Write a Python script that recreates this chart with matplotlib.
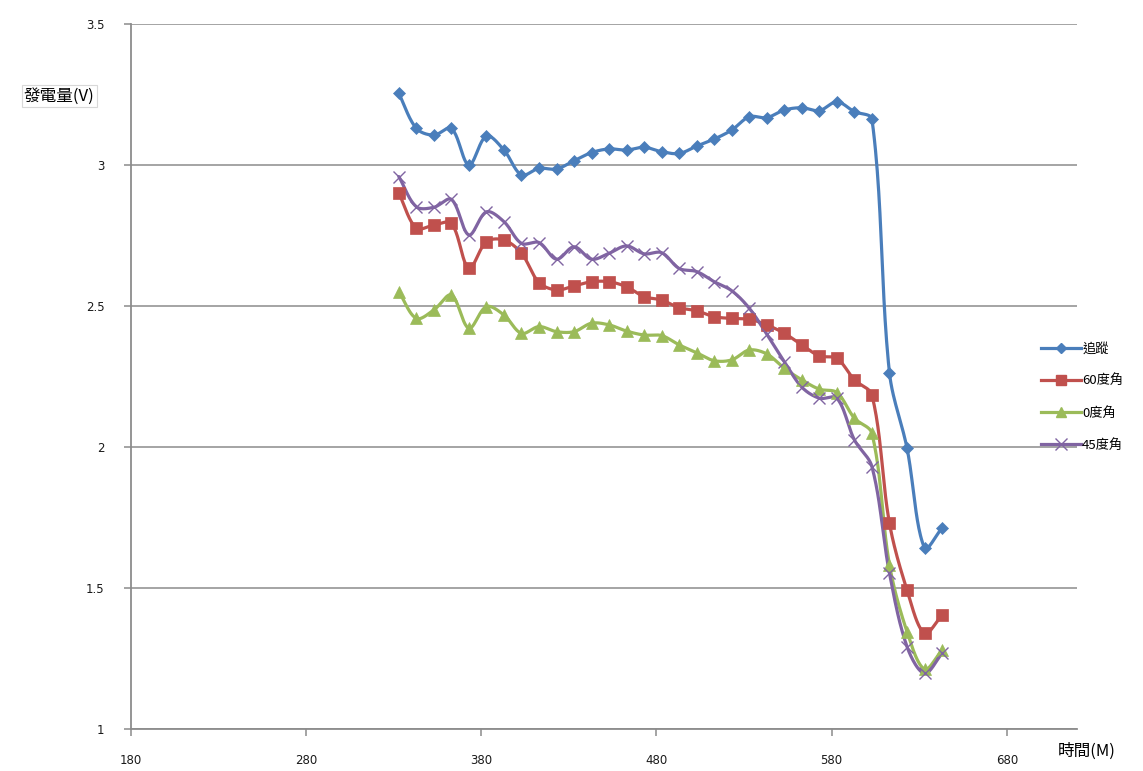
import numpy as np
import matplotlib
matplotlib.use("Agg")
import matplotlib.pyplot as plt
from matplotlib.lines import Line2D

plt.rcParams['font.family'] = ['Noto Sans CJK TC', 'DejaVu Sans']

# ---------------- data ----------------
time_m = [333, 343, 353, 363, 373, 383, 393, 403, 413, 423, 433, 443, 453, 463, 473, 483,
          493, 503, 513, 523, 533, 543, 553, 563, 573, 583, 593, 603, 613, 623, 633, 643]

tracking = [3.254, 3.130, 3.106, 3.130, 3.000, 3.103, 3.053, 2.965, 2.988, 2.986, 3.015, 3.044,
            3.057, 3.053, 3.063, 3.047, 3.041, 3.067, 3.092, 3.124, 3.171, 3.168, 3.195, 3.203,
            3.193, 3.224, 3.189, 3.162, 2.262, 1.996, 1.642, 1.713]

deg60 = [2.900, 2.776, 2.787, 2.793, 2.634, 2.728, 2.734, 2.687, 2.583, 2.557, 2.571, 2.586,
         2.586, 2.568, 2.533, 2.521, 2.494, 2.483, 2.462, 2.456, 2.453, 2.433, 2.403, 2.362,
         2.323, 2.314, 2.238, 2.184, 1.729, 1.493, 1.339, 1.404]

deg0 = [2.551, 2.456, 2.486, 2.539, 2.421, 2.498, 2.468, 2.403, 2.427, 2.409, 2.409, 2.439,
        2.433, 2.411, 2.397, 2.395, 2.362, 2.334, 2.306, 2.309, 2.344, 2.330, 2.279, 2.238,
        2.205, 2.193, 2.102, 2.048, 1.582, 1.345, 1.212, 1.280]

deg45 = [2.959, 2.852, 2.850, 2.878, 2.752, 2.834, 2.799, 2.722, 2.725, 2.666, 2.710, 2.666,
         2.687, 2.713, 2.685, 2.689, 2.633, 2.622, 2.586, 2.554, 2.492, 2.400, 2.303, 2.212,
         2.173, 2.173, 2.025, 1.930, 1.552, 1.292, 1.197, 1.268]

series_names = ['追蹤', '60度角', '0度角', '45度角']
x_ticks = [180, 280, 380, 480, 580, 680]
y_ticks = [1, 1.5, 2, 2.5, 3, 3.5]

# ---------------- style ----------------
colors = ['#4A7EBB', '#C0504D', '#9BBB59', '#8064A2']
markers = ['D', 's', '^', 'x']
msizes = [6, 8.5, 8, 8]

# approximate screen scale (px per data unit) used only for curve smoothing shape
SX, SY = 1.75, 282.0


def smooth(xs, ys, n=24):
    """Smoothed line through points: Bezier segments with chord-length weighted tangents."""
    x = np.asarray(xs, float) * SX
    y = np.asarray(ys, float) * SY
    P = np.column_stack([x, y])
    P = np.vstack([P[0], P, P[-1]])
    t = np.linspace(0, 1, n, endpoint=False)[:, None]
    out = []
    for i in range(1, len(P) - 2):
        p0, p1, p2, p3 = P[i - 1], P[i], P[i + 1], P[i + 2]
        d01 = np.linalg.norm(p1 - p0)
        d12 = np.linalg.norm(p2 - p1)
        d23 = np.linalg.norm(p3 - p2)
        w1 = d12 / (d01 + d12) if (d01 + d12) > 0 else 0.5
        w2 = d12 / (d12 + d23) if (d12 + d23) > 0 else 0.5
        c1 = p1 + (p2 - p0) * w1 / 3.0
        c2 = p2 - (p3 - p1) * w2 / 3.0
        b = ((1 - t) ** 3) * p1 + 3 * ((1 - t) ** 2) * t * c1 + 3 * (1 - t) * t ** 2 * c2 + t ** 3 * p2
        out.append(b)
    out.append(P[-2][None, :])
    out = np.vstack(out)
    return out[:, 0] / SX, out[:, 1] / SY


W, H = 1143, 771
fig = plt.figure(figsize=(W / 100, H / 100), dpi=100)
ax = fig.add_axes([130.7 / W, (H - 729) / H, (1077 - 130.7) / W, (729 - 24) / H])

all_series = [tracking, deg60, deg0, deg45]
handles = []
for ys, c, m, ms, name in zip(all_series, colors, markers, msizes, series_names):
    sx, sy = smooth(time_m, ys)
    ax.plot(sx, sy, color=c, lw=2.3, zorder=3, solid_capstyle='round')
    if m == 'x':
        ax.plot(time_m, ys, ls='none', marker=m, ms=ms, mec=c, mew=1.0, zorder=4)
        h = Line2D([], [], color=c, lw=2.3, marker=m, ms=ms, mec=c, mew=1.0)
    else:
        ax.plot(time_m, ys, ls='none', marker=m, ms=ms, mfc=c, mec=c, mew=0.5, zorder=4)
        h = Line2D([], [], color=c, lw=2.3, marker=m, ms=ms * 0.9, mfc=c, mec=c)
    handles.append(h)

ax.set_xlim(180, 720)
ax.set_ylim(1, 3.5)
ax.set_xticks(x_ticks)
ax.set_yticks(y_ticks)
ax.set_yticklabels(['1', '1.5', '2', '2.5', '3', '3.5'])
ax.grid(axis='y', color='#8c8c8c', lw=1.1)
ax.set_axisbelow(True)
for s in ['top', 'right']:
    ax.spines[s].set_visible(False)
for s in ['left', 'bottom']:
    ax.spines[s].set_color('#8c8c8c')
    ax.spines[s].set_linewidth(1.3)
ax.tick_params(axis='both', colors='#8c8c8c', labelcolor='#1a1a1a', labelsize=8.5,
               length=5, width=1.1, direction='out')
ax.tick_params(axis='x', pad=13)
ax.tick_params(axis='y', pad=14)
for lbl in ax.get_xticklabels() + ax.get_yticklabels():
    lbl.set_fontfamily(['DejaVu Sans'])

# axis titles
fig.text(24 / W, 1 - 96 / H, '發電量(V)', fontsize=12, va='center', ha='left',
         bbox=dict(boxstyle='square,pad=0.15', fc='white', ec='#d8d8d8', lw=0.8))
fig.text(1058 / W, 1 - 751 / H, '時間(M)', fontsize=12, va='center', ha='left')

leg = fig.legend(handles=handles, labels=series_names, loc='upper left',
                 bbox_to_anchor=(1036 / W, 1 - 337 / H), frameon=False,
                 fontsize=9.5, handlelength=3.0, handletextpad=0.1,
                 labelspacing=1.45, borderaxespad=0)

fig.savefig('out.png', dpi=100)
